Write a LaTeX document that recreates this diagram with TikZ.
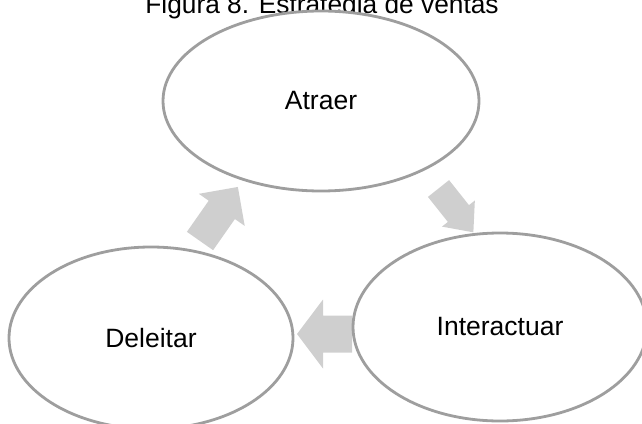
\documentclass[tikz,border=0pt]{standalone}
\usepackage{fontspec}
\setmainfont{Liberation Sans}
\usetikzlibrary{shapes.geometric}
\definecolor{ringgray}{HTML}{9E9E9E}
\definecolor{arrowgray}{HTML}{CFCFCF}
\tikzset{
  ring/.style={ellipse, draw=ringgray, line width=2.8pt, fill=white, inner sep=0pt,
    font=\fontsize{26.5}{31}\selectfont},
  blockarr/.style={fill=arrowgray, draw=none},
}
% tail x, tail y, angle, length, shaft width, head width, head length
\newcommand{\blkarrow}[7]{%
  \begin{scope}[shift={(#1,#2)}, rotate=#3]
    \fill[blockarr] (0,-#5/2) -- ({#4-#7},-#5/2) -- ({#4-#7},-#6/2) -- (#4,0)
      -- ({#4-#7},#6/2) -- ({#4-#7},#5/2) -- (0,#5/2) -- cycle;
  \end{scope}}
\begin{document}
\begin{tikzpicture}[x=1pt,y=-1pt]
\useasboundingbox (0,0) rectangle (642,423);
\clip (0,0) rectangle (642,423);
\node[anchor=base, font=\fontsize{26.3}{31}\selectfont] (title) at (322,13.5) {Figura 8. Estrategia de ventas};
\blkarrow{200}{241}{55}{66}{32}{56}{28}
\blkarrow{438.5}{188.5}{-51.5}{56}{27}{42}{24}
\blkarrow{352}{334}{180}{55}{37}{69}{26}
\node[ring, minimum width=316pt, minimum height=180pt] (atraer) at (321,101) {Atraer};
\node[ring, minimum width=284pt, minimum height=182pt] (deleitar) at (151,338) {Deleitar};
\node[ring, minimum width=294pt, minimum height=188pt] (interactuar) at (500,327) {Interactuar};
\end{tikzpicture}
\end{document}
